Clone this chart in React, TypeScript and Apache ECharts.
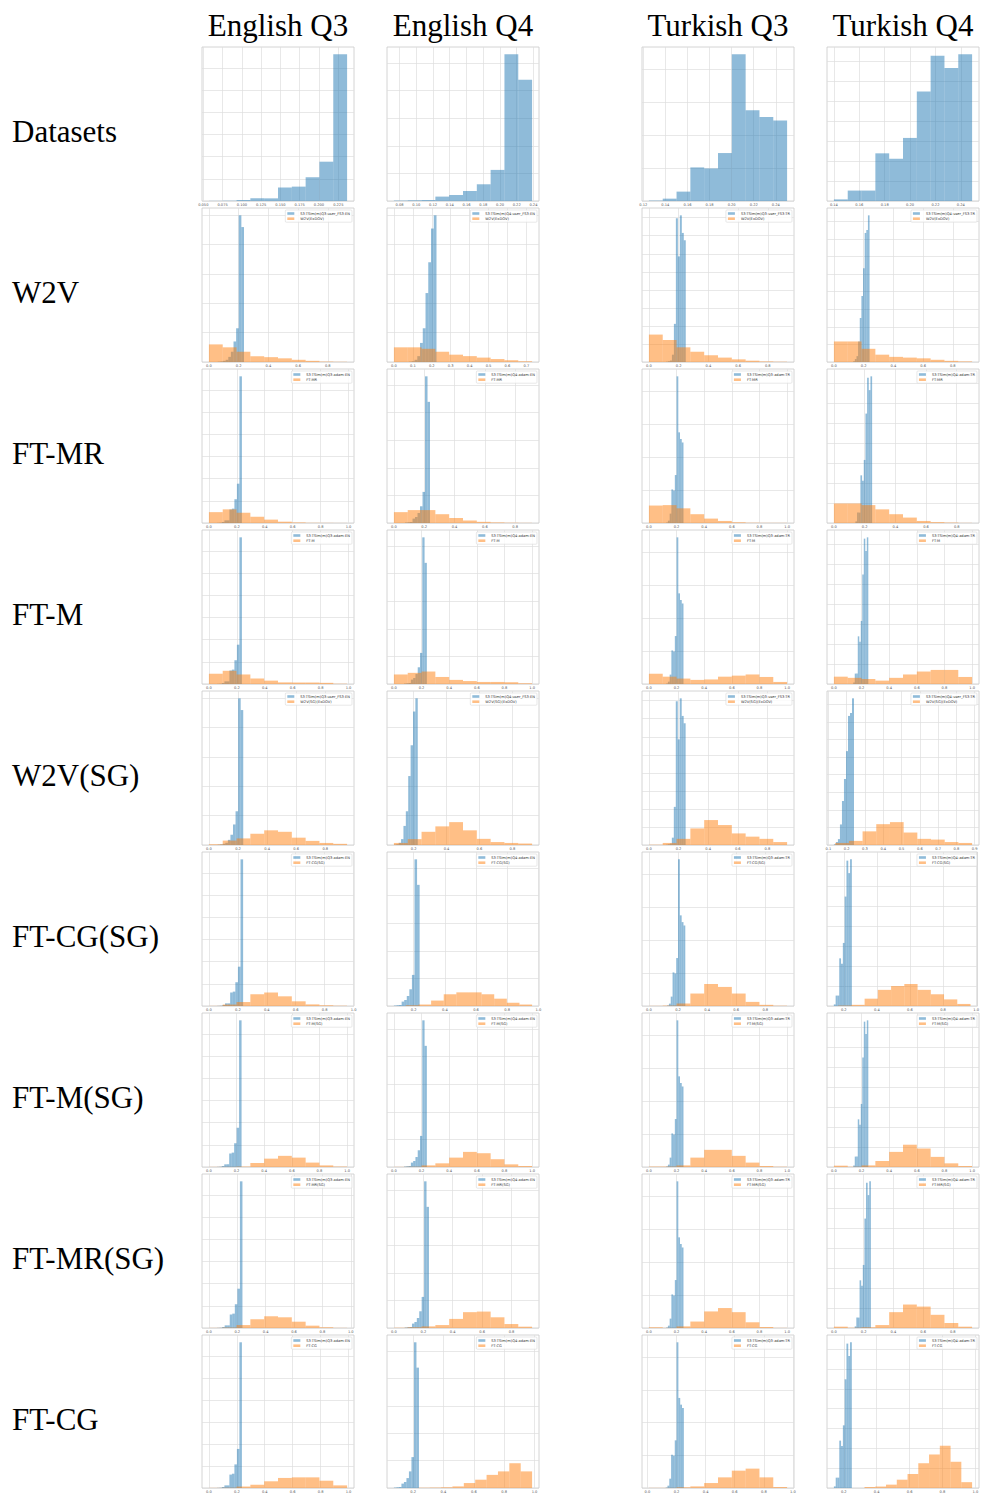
import React, { useEffect, useRef } from "react";
import * as echarts from "echarts";

// ---------- labels ----------
const columnTitles = ["English Q3", "English Q4", "Turkish Q3", "Turkish Q4"];
const columnQuarter = ["Q3", "Q4", "Q3", "Q4"];
const columnLang = ["EN", "EN", "TR", "TR"];
const rowLabels = ["Datasets", "W2V", "FT-MR", "FT-M", "W2V(SG)", "FT-CG(SG)", "FT-M(SG)", "FT-MR(SG)", "FT-CG"];
const modelNames = ["", "W2V(ExDOV)", "FT-MR", "FT-M", "W2V(SG)(ExDOV)", "FT-CG(SG)", "FT-M(SG)", "FT-MR(SG)", "FT-CG"];

// ---------- blue: dataset similarity histograms (10 bins, % of tallest bin) ----------
const datasetRange = [[0.0573, 0.2364], [0.0733, 0.2384], [0.1251, 0.2502], [0.14, 0.2489]];
const datasetHeights = [
  [0.1, 0.2, 0.7, 1.8, 1.8, 9.2, 9.8, 16.2, 26.8, 100],
  [0.3, 0.5, 0.7, 3, 4.1, 6.8, 11.4, 21.2, 100, 82.6],
  [0.3, 1.6, 6.4, 22.9, 22.2, 32.7, 100, 61.8, 57.2, 54.9],
  [1.1, 7.1, 7.1, 32.5, 28.8, 43, 74.6, 99.1, 90.6, 100],
];
// blue for the W2V rows (user_FS3 sets)
const userRange = [[0.06, 0.236], [0.08, 0.225], [0.115, 0.248], [0.13, 0.24]];
const userHeights = [
  [0.2, 0.4, 0.8, 1.5, 3.5, 7, 14, 23, 100, 92],
  [0.2, 0.5, 1.5, 4, 13, 23, 47, 68, 91, 100],
  [0.2, 0.5, 1, 5, 26, 98, 72, 100, 88, 83],
  [0.5, 2, 4, 14, 30, 45, 64, 88, 90, 100],
];

// ---------- orange: model similarity histograms ----------
const w2vRange = [[0, 0.93], [0, 0.73], [0, 0.93], [0, 0.93]];
const w2vHeights = [
  [12, 10, 7, 4, 3.3, 2.5, 1.5, 0.8, 0.3, 0.15],
  [10, 10, 9, 7, 5, 4, 3, 2, 1.2, 0.5],
  [18.7, 15, 10, 7, 4.6, 3, 1.8, 0.9, 0.4, 0.2],
  [14, 14, 9, 5, 3.5, 3, 2.5, 1.5, 0.8, 0.4],
];
const ftmrRange = [[0, 0.99], [0, 0.912], [0, 1.0], [0, 0.9]];
const ftmrHeights = [
  [7.4, 9.3, 7, 4.2, 2.3, 0.9, 0.4, 0.15, 0.1, 0.05],
  [7.4, 8.8, 8.8, 6, 3.4, 1.7, 0.8, 0.4, 0.2, 0.1],
  [11.9, 12.2, 10, 6, 3, 1.4, 0.5, 0.2, 0.1, 0.1],
  [13.3, 13.3, 12.2, 9.3, 6, 3.7, 1.4, 0.6, 0.3, 0.1],
];
const ftmRange = [[0, 0.99], [0, 1.0], [0, 1.0], [0, 1.0]];
const ftmHeights = [
  [7, 9, 6.5, 3.7, 2.3, 1.1, 1, 1, 0.8, 0.2],
  [6.5, 7.6, 8.5, 4.8, 2.8, 2, 1.4, 1.4, 1.2, 0.5],
  [7, 5, 3.7, 2.8, 3.1, 5, 5.7, 6.5, 4.8, 1.4],
  [5, 4.2, 3.4, 2.3, 4.2, 6.5, 8.5, 9.6, 9.6, 4.8],
];
const w2vSgRange = [[0, 0.95], [0.08, 0.92], [0, 0.933], [0.137, 0.886]];
const w2vSgHeights = [
  [0.5, 3, 4.5, 7.6, 10, 9, 5, 2.8, 1.4, 0.8],
  [1.4, 4, 9, 12.7, 15.6, 10, 4.2, 2, 1.4, 1],
  [0.2, 1.4, 4.2, 11.3, 17, 13.6, 7.9, 5.7, 4.2, 2],
  [1.4, 2.8, 9.3, 14.2, 15.6, 8.5, 4.2, 3.7, 2, 1.4],
];
const ftcgSgRange = [[0, 0.955], [0.15, 0.96], [0, 0.95], [0.166, 0.966]];
const ftcgSgHeights = [
  [0.1, 1, 2.7, 8, 9.2, 6.6, 3.2, 1.1, 0.5, 0.2],
  [0.5, 1, 3.7, 8, 9.3, 9.3, 8, 5, 2.3, 1],
  [0.1, 0.3, 1.7, 8.5, 15, 13, 8.5, 2.8, 0.8, 0.2],
  [0.3, 0.8, 5, 11, 13.6, 15, 11, 8, 4.5, 1.4],
];
const ftmSgRange = [[0, 1.0], [0, 1.0], [0, 1.0], [0, 1.0]];
const ftmSgHeights = [
  [0.1, 0.1, 0.3, 2.8, 5.7, 7.6, 6.4, 3, 1.1, 0.3],
  [0.1, 0.2, 1.1, 2.5, 6.4, 10.3, 9.4, 5.3, 1.8, 0.7],
  [0.3, 0.3, 1.1, 6.4, 11.7, 11.7, 7.6, 3, 0.7, 0.2],
  [0.9, 0.2, 1.1, 4.1, 10.3, 15.2, 12.6, 6.9, 2.5, 0.7],
];
const ftmrSgRange = [[0, 0.974], [0, 0.94], [0, 1.0], [0, 0.93]];
const ftmrSgHeights = [
  [0.1, 0.3, 2, 6, 8, 7.3, 4.3, 1.6, 0.5, 0.1],
  [0.2, 0.5, 1.1, 2, 6.2, 10.8, 11.2, 7.3, 2.7, 0.9],
  [0.5, 0.1, 1.1, 4.4, 11.3, 13.6, 10.8, 3.9, 0.7, 0.1],
  [0.9, 0.2, 0.5, 2, 10.8, 16, 14.6, 9, 3.4, 0.9],
];
const ftcgRange = [[0, 0.99], [0.234, 0.984], [0.01, 0.96], [0.326, 0.98]];
const ftcgHeights = [
  [0.1, 0.2, 1, 2.3, 4.6, 6.9, 7.3, 7.3, 5, 1.8],
  [0.2, 0.3, 0.5, 1.1, 3.4, 5.7, 9, 11.4, 17, 11.4],
  [0.1, 0.1, 0.5, 1.1, 3.4, 7.3, 11.9, 13.3, 7.3, 0.7],
  [0.7, 1, 2.3, 5.7, 9.6, 17, 23, 29, 18, 4],
];

const orangeRanges = [null, w2vRange, ftmrRange, ftmRange, w2vSgRange, ftcgSgRange, ftmSgRange, ftmrSgRange, ftcgRange];
const orangeHeights = [null, w2vHeights, ftmrHeights, ftmHeights, w2vSgHeights, ftcgSgHeights, ftmSgHeights, ftmrSgHeights, ftcgHeights];

// ---------- tick spacing ----------
const xTickStep = [
  [0.025, 0.02, 0.02, 0.02],
  [0.2, 0.1, 0.2, 0.2],
  [0.2, 0.2, 0.2, 0.2],
  [0.2, 0.2, 0.2, 0.2],
  [0.2, 0.2, 0.2, 0.1],
  [0.2, 0.2, 0.2, 0.2],
  [0.2, 0.2, 0.2, 0.2],
  [0.2, 0.2, 0.2, 0.2],
  [0.2, 0.2, 0.2, 0.2],
];
const yGridStepDataset = [15.1, 18.8, 22.4, 13.6];
const yGridStepUser = [20, 20, 12.3, 12];

// ---------- layout ----------
const W = 982;
const H = 1494;
const colLeft = [202, 387, 642, 827];
const panelW = 152;
const panelH = 154;
const rowTop0 = 47;
const rowPitch = 161;

const BLUE = "rgba(31,119,180,0.5)";
const ORANGE = "rgba(255,127,14,0.5)";
const SERIF = '"Liberation Serif", "Times New Roman", "DejaVu Serif", serif';
const SANS = '"DejaVu Sans", "Liberation Sans", sans-serif';

function bins(range: number[], heights: number[]) {
  const [lo, hi] = range;
  const w = (hi - lo) / heights.length;
  return heights.map((h, i) => [lo + i * w, lo + (i + 1) * w, h]);
}

function ticks(min: number, max: number, step: number) {
  const out: number[] = [];
  for (let k = Math.ceil(min / step - 1e-9); k * step <= max + 1e-9; k++) {
    out.push(Math.round(k * step * 1e6) / 1e6);
  }
  return out;
}

function decimalsFor(step: number) {
  if (step === 0.025) return 3;
  if (step < 0.1) return 2;
  return 1;
}

const makeRender = (fill: string) => (_params: any, api: any) => {
  const x0 = api.value(0);
  const x1 = api.value(1);
  const h = api.value(2);
  const a = api.coord([x0, h]);
  const b = api.coord([x1, 0]);
  return {
    type: "rect",
    shape: { x: a[0], y: a[1], width: b[0] - a[0], height: b[1] - a[1] },
    style: { fill },
  };
};

function buildOption() {
  const grid: any[] = [];
  const xAxis: any[] = [];
  const yAxis: any[] = [];
  const series: any[] = [];
  const legend: any[] = [];
  const graphic: any[] = [];

  columnTitles.forEach((t, c) => {
    graphic.push({
      type: "text",
      x: colLeft[c] + panelW / 2,
      y: 25,
      style: { text: t, fontSize: 31, fontFamily: SERIF, fill: "#000", textAlign: "center", textVerticalAlign: "middle" },
    });
  });
  rowLabels.forEach((t, r) => {
    graphic.push({
      type: "text",
      x: 12,
      y: rowTop0 + r * rowPitch + panelH / 2 + 7,
      style: { text: t, fontSize: 31, fontFamily: SERIF, fill: "#000", textAlign: "left", textVerticalAlign: "middle" },
    });
  });

  let gi = 0;
  for (let r = 0; r < rowLabels.length; r++) {
    for (let c = 0; c < 4; c++) {
      const isUser = r === 1 || r === 4;
      const bRange = isUser ? userRange[c] : datasetRange[c];
      const bHeights = isUser ? userHeights[c] : datasetHeights[c];
      const oRange = r === 0 ? null : (orangeRanges[r] as number[][])[c];
      const oHeights = r === 0 ? null : (orangeHeights[r] as number[][])[c];

      const lo = Math.min(bRange[0], oRange ? oRange[0] : Infinity);
      const hi = Math.max(bRange[1], oRange ? oRange[1] : -Infinity);
      const pad = 0.05 * (hi - lo);
      const xmin = lo - pad;
      const xmax = hi + pad;
      const hMax = Math.max(...bHeights, ...(oHeights || [0]));
      const ymax = hMax * 1.05;
      const xStep = xTickStep[r][c];
      const yStep = isUser ? yGridStepUser[c] : yGridStepDataset[c];
      const xt = ticks(xmin, xmax, xStep);
      const yt = ticks(0, ymax, yStep);
      const dec = decimalsFor(xStep);

      const top = rowTop0 + r * rowPitch;
      grid.push({
        left: colLeft[c],
        top,
        width: panelW,
        height: panelH,
        show: true,
        borderColor: "#c9c9c9",
        borderWidth: 0.8,
        backgroundColor: "#ffffff",
      });
      xAxis.push({
        type: "value",
        gridIndex: gi,
        min: xmin,
        max: xmax,
        axisLine: { show: false },
        axisTick: { show: false, customValues: xt },
        axisLabel: {
          customValues: xt,
          fontSize: 3.6,
          color: "#555",
          margin: 2,
          fontFamily: SANS,
          formatter: (v: number) => v.toFixed(dec),
        },
        splitLine: { show: true, lineStyle: { color: "#dedede", width: 0.7 } },
      });
      yAxis.push({
        type: "value",
        gridIndex: gi,
        min: 0,
        max: ymax,
        axisLine: { show: false },
        axisTick: { show: false, customValues: yt },
        axisLabel: { show: false, customValues: yt },
        splitLine: { show: true, lineStyle: { color: "#dedede", width: 0.7 } },
      });

      const blueName = `S3-TSim(m)${columnQuarter[c]}-${isUser ? "user_FS3" : "adam"}-${columnLang[c]}`;
      series.push({
        type: "custom",
        name: blueName,
        xAxisIndex: gi,
        yAxisIndex: gi,
        silent: true,
        itemStyle: { color: BLUE },
        renderItem: makeRender(BLUE),
        encode: { x: [0, 1], y: 2 },
        data: bins(bRange, bHeights),
      });
      if (oRange && oHeights) {
        series.push({
          type: "custom",
          name: modelNames[r],
          xAxisIndex: gi,
          yAxisIndex: gi,
          silent: true,
          itemStyle: { color: ORANGE },
          renderItem: makeRender(ORANGE),
          encode: { x: [0, 1], y: 2 },
          data: bins(oRange, oHeights),
        });
        legend.push({
          data: [blueName, modelNames[r]],
          orient: "vertical",
          right: W - (colLeft[c] + panelW) + 2,
          top: top + 2,
          icon: "rect",
          itemWidth: 7,
          itemHeight: 2.6,
          itemGap: 1.2,
          padding: [1.5, 2, 1.5, 2],
          borderColor: "#d8d8d8",
          borderWidth: 0.6,
          borderRadius: 1,
          backgroundColor: "rgba(255,255,255,0.8)",
          selectedMode: false,
          textStyle: { fontSize: 3.6, color: "#333", fontFamily: SANS, padding: [0, 0, 0, 1] },
        });
      }
      gi++;
    }
  }

  return {
    animation: false,
    backgroundColor: "#ffffff",
    grid,
    xAxis,
    yAxis,
    series,
    legend,
    graphic,
  };
}

export default function App() {
  const ref = useRef<HTMLDivElement>(null);
  useEffect(() => {
    document.body.style.margin = "0";
    if (!ref.current) return;
    const chart = echarts.init(ref.current, undefined, { renderer: "svg" });
    chart.setOption(buildOption() as any);
    return () => chart.dispose();
  }, []);
  return <div ref={ref} style={{ width: W, height: H, background: "#fff" }} />;
}
